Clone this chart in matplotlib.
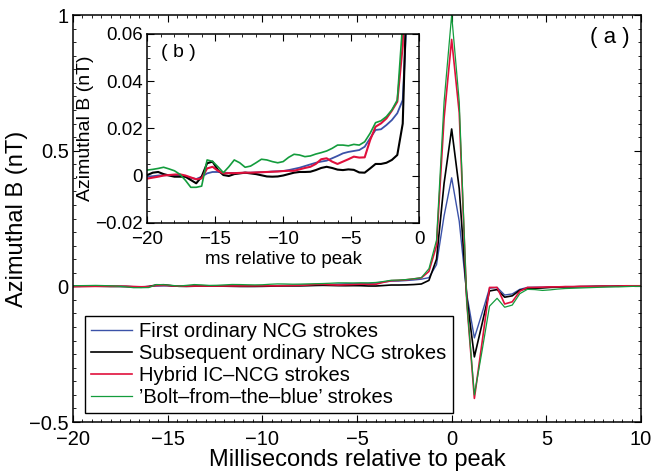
import numpy as np
import matplotlib
matplotlib.use('Agg')
import matplotlib.pyplot as plt
from matplotlib.ticker import MultipleLocator

plt.rcParams['font.family'] = ['Liberation Sans', 'DejaVu Sans']

# time axis: 0.4 ms sampling, -20 .. 10 ms
t = np.round(np.arange(-20, 10.001, 0.4), 2)

# values in nT
first_ncg = [-0.0005, -0.0003, 0, 0.0001, 0.0002, 0.0001, 0, -0.0005, -0.001, -0.0015,
             -0.0005, 0.0009, 0.0015, 0.0015, 0.0012, 0.0011, 0.0011, 0.0011, 0.0012, 0.0012,
             0.0013, 0.0014, 0.0015, 0.0017, 0.0018, 0.0019, 0.0023, 0.0028, 0.0033, 0.004,
             0.0047, 0.0054, 0.0059, 0.0063, 0.0073, 0.0083, 0.0094, 0.01, 0.0104, 0.0108,
             0.0122, 0.0158, 0.0193, 0.0196, 0.0214, 0.0235, 0.0264,
             0.032, 0.08, 0.26, 0.40, 0.24, -0.03, -0.19, -0.10, -0.007, -0.004, -0.032,
             -0.028, -0.011, -0.004,
             -0.003, -0.003, -0.002, -0.002, -0.001, -0.001, -0.001, 0, 0, 0.001, 0.001,
             0.001, 0.001, 0.001, 0.001]

subseq_ncg = [0.0002, 0.0012, 0.0015, 0.0006, 0, -0.0005, -0.0005, -0.0005, -0.0019, -0.0033,
              -0.0005, 0.0052, 0.0059, 0.0023, 0.0002, -0.0002, 0.0006, 0.0009, 0.0012, 0.0009,
              0.0006, 0.0001, -0.0004, -0.0005, -0.0004, 0, 0.0006, 0.0012, 0.0015, 0.0015,
              0.0016, 0.0023, 0.0032, 0.0037, 0.0032, 0.0025, 0.0023, 0.0026, 0.0024, 0.0013,
              0.0012, 0.003, 0.0049, 0.0049, 0.0054, 0.0066, 0.0087,
              0.022, 0.10, 0.38, 0.58, 0.36, -0.04, -0.26, -0.14, -0.017, -0.012, -0.04,
              -0.035, -0.014, -0.008,
              -0.007, -0.006, -0.004, -0.003, -0.002, -0.002, -0.001, -0.001, 0, 0, 0,
              0.001, 0.001, 0.001, 0.001]

hybrid = [-0.0013, -0.0009, -0.0005, 0, 0.0002, 0.0004, 0.0005, 0, -0.0008, -0.0016,
          -0.0012, 0.003, 0.0037, 0.002, 0.0009, 0.001, 0.001, 0.0011, 0.0012, 0.0012,
          0.0013, 0.0014, 0.0015, 0.0016, 0.0017, 0.0019, 0.002, 0.002, 0.0026, 0.0032,
          0.0037, 0.0049, 0.0069, 0.0073, 0.0059, 0.0049, 0.0059, 0.0069, 0.008, 0.0076,
          0.0077, 0.015, 0.0207, 0.0221, 0.0242, 0.0275, 0.0313,
          0.055, 0.15, 0.62, 0.91, 0.64, -0.06, -0.413, -0.21, -0.004, -0.004, -0.065,
          -0.057, -0.018, -0.004,
          -0.004, -0.003, -0.002, -0.002, -0.001, -0.001, 0, 0, 0, 0.001, 0.001,
          0.001, 0.002, 0.002, 0.002]

bolt = [0.0023, 0.0026, 0.003, 0.0035, 0.0028, 0.002, 0.0005, -0.002, -0.005, -0.005,
        -0.0045, 0.0066, 0.006, 0.0037, 0.0012, 0.0037, 0.0066, 0.0054, 0.0035, 0.004,
        0.0054, 0.0069, 0.0066, 0.0059, 0.0054, 0.0059, 0.0077, 0.009, 0.0087, 0.008,
        0.0083, 0.0091, 0.0097, 0.0104, 0.0115, 0.0129, 0.0129, 0.0126, 0.0132, 0.0129,
        0.0143, 0.0179, 0.0224, 0.0232, 0.025, 0.0278, 0.032,
        0.065, 0.17, 0.68, 1.0, 0.68, -0.06, -0.40, -0.24, -0.073, -0.044, -0.077,
        -0.069, -0.027, -0.011,
        -0.012, -0.015, -0.013, -0.01, -0.008, -0.007, -0.006, -0.005, -0.004, -0.003,
        -0.002, -0.002, -0.001, 0, 0]

labels = ['First ordinary NCG strokes', 'Subsequent ordinary NCG strokes',
          'Hybrid IC\u2013NCG strokes', '\u2019Bolt\u2013from\u2013the\u2013blue\u2019 strokes']
colors = ['#3b52a8', 'black', '#e0103c', '#139c3c']
series = [first_ncg, subseq_ncg, hybrid, bolt]
widths = [1.0, 1.2, 1.2, 0.9]


def style_ticks(ax, size, xpad, ypad):
    ax.tick_params(which='both', direction='in', top=True, right=True, labelsize=size)
    ax.tick_params(axis='x', which='major', pad=xpad)
    ax.tick_params(axis='y', which='major', pad=ypad)
    ax.tick_params(which='major', length=5, width=0.8)
    ax.tick_params(which='minor', length=2.5, width=0.6)
    for s in ax.spines.values():
        s.set_linewidth(1.1)


fig = plt.figure(figsize=(6.53, 4.72), dpi=100)
ax = fig.add_axes([0.1118, 0.1059, 0.8698, 0.8623])
for y, c, lab, lw in zip(series, colors, labels, widths):
    ax.plot(t, y, color=c, lw=lw, label=lab)
ax.set_xlim(-20, 10)
ax.set_ylim(-0.5, 1)
ax.set_xticks([-20, -15, -10, -5, 0, 5, 10])
ax.set_yticks([-0.5, 0, 0.5, 1])
ax.set_yticklabels(['\u22120.5', '0', '0.5', '1'])
ax.set_xticklabels(['\u221220', '\u221215', '\u221210', '\u22125', '0', '5', '10'])
ax.xaxis.set_minor_locator(MultipleLocator(0.5))
ax.yaxis.set_minor_locator(MultipleLocator(0.05))
style_ticks(ax, 14.5, 6, 3)
ax.set_xlabel('Milliseconds relative to peak', fontsize=17, labelpad=0)
ax.set_ylabel('Azimuthal B (nT)', fontsize=17, labelpad=1)
ax.text(0.945, 0.945, '( a )', transform=ax.transAxes, fontsize=16, ha='center', va='center')
leg = ax.legend(loc='lower left', bbox_to_anchor=(0.021, 0.022), borderaxespad=0,
                fontsize=14.5, fancybox=False, framealpha=1, edgecolor='black',
                handlelength=2.05, handletextpad=0.35, labelspacing=0.15, borderpad=0.3)
leg.get_frame().set_linewidth(1.0)

# inset (b)
ins = fig.add_axes([0.2256, 0.5282, 0.4161, 0.3998])
for y, c, lw in zip(series, colors, widths):
    ins.plot(t, y, color=c, lw=lw + 0.3)
ins.set_xlim(-20, 0)
ins.set_ylim(-0.02, 0.06)
ins.set_xticks([-20, -15, -10, -5, 0])
ins.set_xticklabels(['\u221220', '\u221215', '\u221210', '\u22125', '0'])
ins.set_yticks([-0.02, 0, 0.02, 0.04, 0.06])
ins.set_yticklabels(['\u22120.02', '0', '0.02', '0.04', '0.06'])
ins.xaxis.set_minor_locator(MultipleLocator(1))
ins.yaxis.set_minor_locator(MultipleLocator(0.005))
style_ticks(ins, 13.5, 6, 3)
ins.set_xlabel('ms relative to peak', fontsize=13.5, labelpad=2)
ins.set_ylabel('Azimuthal B (nT)', fontsize=14, labelpad=1)
ins.text(0.115, 0.9, '( b )', transform=ins.transAxes, fontsize=14, ha='center', va='center')

fig.savefig('out.png', dpi=100)
